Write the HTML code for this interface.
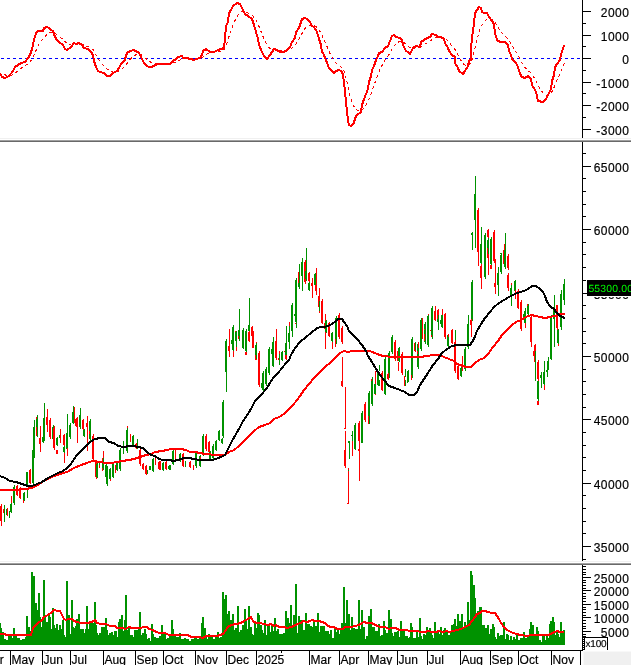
<!DOCTYPE html>
<html lang="en"><head><meta charset="utf-8"><title>Chart</title>
<style>html,body{margin:0;padding:0;background:#fff;overflow:hidden}svg text{white-space:pre;stroke:#000;stroke-width:.18px}</style></head>
<body>
<svg width="631" height="665" viewBox="0 0 631 665" shape-rendering="crispEdges" style="display:block;font-family:'Liberation Sans',sans-serif;font-size:12px">
<rect width="631" height="665" fill="#fff"/>
<g id="macd">
<line x1="1" y1="58.5" x2="582" y2="58.5" stroke="#0000ff" stroke-width="1" stroke-dasharray="3 3"/>
<polyline points="-1.4,72.9 0.0,72.9 1.4,73.5 2.9,74.1 4.3,74.6 5.7,75.1 7.2,75.4 8.6,75.6 10.0,75.5 11.5,75.1 12.9,74.6 14.3,73.7 15.7,72.5 17.2,71.4 18.6,70.2 20.0,69.1 21.5,68.0 22.9,67.1 24.3,66.2 25.8,65.4 27.2,64.3 28.6,63.0 30.0,61.8 31.5,60.1 32.9,57.8 34.3,54.4 35.8,50.9 37.2,47.7 38.6,44.9 40.1,42.5 41.5,40.6 42.9,38.9 44.3,37.1 45.8,35.5 47.2,34.2 48.6,33.1 50.1,32.5 51.5,32.2 52.9,32.0 54.4,32.7 55.8,33.7 57.2,34.9 58.6,36.0 60.1,37.1 61.5,38.2 62.9,39.5 64.4,41.1 65.8,42.5 67.2,43.7 68.7,44.5 70.1,44.9 71.5,45.1 72.9,45.0 74.4,44.7 75.8,44.6 77.2,44.5 78.7,44.3 80.1,44.2 81.5,44.4 83.0,44.8 84.4,45.4 85.8,45.9 87.2,46.4 88.7,46.9 90.1,47.5 91.5,48.3 93.0,49.6 94.4,51.8 95.8,54.4 97.3,56.9 98.7,59.2 100.1,61.4 101.5,63.2 103.0,64.8 104.4,66.3 105.8,67.7 107.3,69.0 108.7,70.2 110.1,71.1 111.6,71.7 113.0,72.0 114.4,72.1 115.8,72.1 117.3,71.8 118.7,71.3 120.1,70.4 121.6,69.4 123.0,68.2 124.4,66.9 125.9,65.0 127.3,63.0 128.7,61.1 130.1,59.4 131.6,57.9 133.0,56.6 134.4,55.6 135.9,54.8 137.3,54.3 138.7,54.1 140.2,54.3 141.6,55.0 143.0,56.0 144.4,57.3 145.9,58.6 147.3,59.8 148.7,60.9 150.2,61.9 151.6,62.7 153.0,63.2 154.5,63.5 155.9,63.7 157.3,63.7 158.7,63.7 160.2,63.7 161.6,63.7 163.0,63.7 164.5,63.7 165.9,63.7 167.3,63.7 168.8,63.7 170.2,63.7 171.6,63.4 173.0,63.0 174.5,62.5 175.9,61.8 177.3,61.2 178.8,60.5 180.2,59.9 181.6,59.2 183.1,58.9 184.5,58.7 185.9,58.5 187.3,58.4 188.8,58.4 190.2,58.5 191.6,58.7 193.1,58.9 194.5,59.1 195.9,59.1 197.4,59.1 198.8,58.9 200.2,58.7 201.6,58.0 203.1,56.9 204.5,55.8 205.9,54.7 207.4,53.9 208.8,53.4 210.2,53.1 211.7,52.8 213.1,52.6 214.5,52.4 215.9,52.2 217.4,51.9 218.8,51.6 220.2,51.3 221.7,51.0 223.1,50.5 224.5,49.1 226.0,45.7 227.4,41.9 228.8,37.2 230.2,32.9 231.7,28.9 233.1,25.0 234.5,21.6 236.0,18.7 237.4,16.0 238.8,14.0 240.3,12.6 241.7,11.7 243.1,11.4 244.5,11.7 246.0,12.1 247.4,12.7 248.8,13.3 250.3,14.0 251.7,14.9 253.1,16.3 254.6,18.1 256.0,20.2 257.4,22.8 258.8,26.0 260.3,29.6 261.7,33.2 263.1,36.8 264.6,40.1 266.0,43.2 267.4,45.6 268.9,47.4 270.3,48.6 271.7,49.2 273.1,49.4 274.6,49.3 276.0,49.4 277.4,49.6 278.9,49.9 280.3,50.3 281.7,50.7 283.2,50.9 284.6,51.1 286.0,51.1 287.4,50.9 288.9,50.4 290.3,49.5 291.7,48.3 293.2,47.0 294.6,45.6 296.0,43.7 297.5,41.5 298.9,39.2 300.3,36.8 301.7,33.9 303.2,31.4 304.6,29.1 306.0,27.3 307.5,26.0 308.9,25.3 310.3,25.0 311.8,25.1 313.2,25.4 314.6,25.8 316.0,26.7 317.5,28.0 318.9,29.8 320.3,32.0 321.8,34.9 323.2,38.0 324.6,41.3 326.1,44.5 327.5,47.7 328.9,51.0 330.3,54.0 331.8,56.8 333.2,59.4 334.6,61.6 336.1,63.2 337.5,64.5 338.9,65.5 340.4,66.4 341.8,67.3 343.2,69.2 344.6,72.6 346.1,78.1 347.5,84.7 348.9,91.4 350.4,97.1 351.8,101.7 353.2,105.3 354.7,107.6 356.1,109.2 357.5,110.1 358.9,110.7 360.4,111.1 361.8,110.5 363.2,109.0 364.7,107.1 366.1,104.8 367.5,102.2 369.0,99.0 370.4,95.4 371.8,91.3 373.2,87.4 374.7,83.5 376.1,79.5 377.5,75.6 379.0,71.9 380.4,68.7 381.8,65.9 383.3,63.4 384.7,60.8 386.1,58.6 387.5,56.6 389.0,54.5 390.4,52.2 391.8,49.5 393.3,47.0 394.7,45.1 396.1,43.8 397.6,42.6 399.0,41.8 400.4,41.2 401.8,41.2 403.3,41.9 404.7,43.0 406.1,44.4 407.6,45.7 409.0,46.9 410.4,48.0 411.9,48.4 413.3,48.3 414.7,48.1 416.1,47.8 417.6,47.6 419.0,47.4 420.4,46.7 421.9,45.9 423.3,45.0 424.7,44.2 426.2,43.3 427.6,42.4 429.0,41.6 430.4,40.7 431.9,39.7 433.3,38.7 434.7,38.0 436.2,37.5 437.6,37.3 439.0,37.2 440.5,37.2 441.9,37.3 443.3,37.5 444.7,38.2 446.2,39.3 447.6,40.7 449.0,42.4 450.5,44.1 451.9,45.8 453.3,47.5 454.8,49.2 456.2,51.8 457.6,54.5 459.0,57.1 460.5,59.7 461.9,62.0 463.3,63.8 464.8,65.0 466.2,65.6 467.6,65.8 469.1,64.9 470.5,63.9 471.9,60.0 473.3,54.9 474.8,49.1 476.2,42.7 477.6,37.0 479.1,32.0 480.5,28.0 481.9,25.3 483.4,23.2 484.8,21.4 486.2,20.0 487.6,19.1 489.1,18.9 490.5,18.9 491.9,19.2 493.4,19.8 494.8,21.5 496.2,24.0 497.7,26.6 499.1,29.1 500.5,31.2 501.9,33.0 503.4,34.5 504.8,35.8 506.2,37.1 507.7,38.4 509.1,40.7 510.5,43.0 512.0,45.5 513.4,47.8 514.8,50.0 516.2,52.1 517.7,54.4 519.1,57.1 520.5,59.9 522.0,62.7 523.4,65.1 524.8,67.3 526.3,69.0 527.7,70.2 529.1,71.4 530.5,72.7 532.0,74.5 533.4,76.6 534.8,78.8 536.3,81.3 537.7,84.4 539.1,87.2 540.6,89.6 542.0,91.6 543.4,93.2 544.8,94.4 546.3,95.1 547.7,95.3 549.1,94.8 550.6,93.9 552.0,91.6 553.4,89.0 554.9,85.3 556.3,81.9 557.7,78.7 559.1,75.8 560.6,72.7 562.0,69.2 563.4,65.8 564.9,62.3" fill="none" stroke="#ff0000" stroke-width="1" stroke-dasharray="3 3"/>
<polyline points="0,73 2,77 5,78 9,76 13,71 15,67 18,65 21,63 25,62 28,58 30,55 32,49 34,40 36,33 38,31 43,31 44,28 47,27 49,28 51,30 53,31 55,37 57,40 59,42 63,45 65,49 67,50 71,47 74,43 76,44 79,43 82,45 84,48 88,49 91,52 93,55 94,61 96,67 98,71 100,72 104,73 107,76 110,76 113,73 117,71 119,68 121,64 125,60 126,55 128,52 131,51 133,50 136,51 139,53 140,55 142,59 144,63 147,66 149,67 152,67 155,65 158,64 163,64 170,64 173,61 176,59 178,57 182,56 183,58 187,58 190,59 194,60 196,59 200,58 202,55 203,51 206,49 210,52 214,52 218,50 221,49 224,48 225,39 226,26 228,22 229,13 231,10 233,6 237,3 240,4 242,8 245,14 248,16 252,19 254,25 256,32 258,39 259,45 262,52 264,56 267,59 270,55 272,52 274,49 277,50 280,52 284,52 287,50 290,47 292,42 295,38 296,32 299,28 300,25 302,19 305,18 307,19 310,22 312,26 314,27 317,32 319,39 321,45 322,52 323,53 326,60 329,68 332,71 334,73 336,71 339,70 341,71 343,74 344,83 345,91 346,103 347,111 348,120 349,125 351,126 354,123 355,118 357,115 361,112 362,105 364,99 366,94 368,89 369,82 371,76 372,70 374,66 376,60 378,56 379,53 382,52 385,48 388,46 390,41 392,36 394,35 396,37 400,38 402,40 403,45 406,51 408,52 410,54 413,48 416,46 420,47 421,42 424,40 427,38 430,37 432,34 436,35 438,37 441,37 444,39 445,43 448,48 449,51 452,55 455,57 455,63 458,68 459,71 463,74 465,71 468,66 469,61 471,59 471,48 472,38 473,30 474,24 475,13 477,10 479,7 481,8 482,12 484,13 487,13 489,17 492,21 494,24 495,33 497,40 500,42 505,42 508,45 509,51 511,55 512,59 516,63 518,67 520,74 522,77 525,78 528,76 531,79 532,85 535,90 536,92 538,101 543,102 546,99 548,95 551,89 552,81 554,75 555,67 557,64 560,60 561,54 563,49 564,45" fill="none" stroke="#ff0000" stroke-width="2" stroke-linejoin="round"/>
</g>
<g id="candles">
<path fill="#ff0000" d="M0,506h1v-2h1v19h-1v-2h-1z"/>
<rect x="1" y="523" width="1" height="3" fill="#ff0000"/>
<rect x="3" y="509" width="1" height="4" fill="#ff0000"/>
<rect x="4" y="505" width="1" height="17" fill="#009200"/>
<rect x="6" y="509" width="1" height="6" fill="#009200"/>
<rect x="7" y="508" width="1" height="8" fill="#ff0000"/>
<rect x="9" y="511" width="1" height="7" fill="#009200"/>
<path fill="#009200" d="M10,504h1v-1h1v10h-1v-1h-1z"/>
<rect x="11" y="496" width="1" height="7" fill="#ff0000"/>
<path fill="#009200" d="M13,487h1v-2h1v20h-1v-2h-1z"/>
<path fill="#ff0000" d="M16,486h1v-1h1v11h-1v-1h-1z"/>
<path fill="#ff0000" d="M19,488h1v-1h1v12h-1v-1h-1z"/>
<rect x="23" y="498" width="1" height="5" fill="#ff0000"/>
<path fill="#009200" d="M23,493h1v-1h1v9h-1v-1h-1z"/>
<path fill="#009200" d="M26,473h1v-1h1v15h-1v-1h-1z"/>
<rect x="27" y="488" width="1" height="10" fill="#009200"/>
<path fill="#ff0000" d="M29,470h1v-1h1v15h-1v-1h-1z"/>
<path fill="#009200" d="M32,452h1v-2h1v35h-1v-2h-1z"/>
<rect x="26" y="472" width="1" height="7" fill="#009200"/>
<rect x="30" y="469" width="1" height="10" fill="#ff0000"/>
<path fill="#009200" d="M32,450h1v-2h1v31h-1v-2h-1z"/>
<path fill="#009200" d="M33,427h1v-2h1v33h-1v-2h-1z"/>
<rect x="34" y="420" width="1" height="6" fill="#009200"/>
<path fill="#009200" d="M36,417h1v-2h1v22h-1v-2h-1z"/>
<rect x="36" y="417" width="1" height="2" fill="#ff0000"/>
<rect x="36" y="427" width="1" height="9" fill="#ff0000"/>
<rect x="40" y="426" width="1" height="26" fill="#ff0000"/>
<path fill="#ff0000" d="M39,438h1v-1h1v8h-1v-1h-1z"/>
<path fill="#009200" d="M42,437h1v-1h1v7h-1v-1h-1z"/>
<path fill="#009200" d="M43,418h1v-2h1v25h-1v-2h-1z"/>
<rect x="44" y="403" width="1" height="14" fill="#009200"/>
<path fill="#ff0000" d="M46,417h1v-1h1v10h-1v-1h-1z"/>
<rect x="47" y="409" width="1" height="23" fill="#ff0000"/>
<path fill="#ff0000" d="M49,420h1v-2h1v21h-1v-2h-1z"/>
<path fill="#009200" d="M52,427h1v-2h1v16h-1v-2h-1z"/>
<path fill="#ff0000" d="M53,428h1v-2h1v24h-1v-2h-1z"/>
<path fill="#009200" d="M56,438h1v-1h1v9h-1v-1h-1z"/>
<rect x="56" y="450" width="2" height="4" fill="#ff0000"/>
<path fill="#009200" d="M59,435h1v-1h1v5h-1v-1h-1z"/>
<rect x="60" y="429" width="1" height="14" fill="#ff0000"/>
<path fill="#ff0000" d="M63,435h1v-1h1v12h-1v-1h-1z"/>
<path fill="#009200" d="M63,447h1v-1h1v7h-1v-1h-1z"/>
<rect x="64" y="453" width="1" height="10" fill="#ff0000"/>
<path fill="#009200" d="M66,433h1v-2h1v20h-1v-2h-1z"/>
<rect x="67" y="414" width="1" height="18" fill="#009200"/>
<rect x="67" y="448" width="1" height="8" fill="#ff0000"/>
<path fill="#009200" d="M69,425h1v-2h1v16h-1v-2h-1z"/>
<path fill="#009200" d="M72,412h1v-1h1v13h-1v-1h-1z"/>
<rect x="74" y="407" width="1" height="16" fill="#ff0000"/>
<rect x="73" y="406" width="1" height="5" fill="#009200"/>
<rect x="77" y="417" width="1" height="26" fill="#ff0000"/>
<path fill="#ff0000" d="M75,419h1v-1h1v9h-1v-1h-1z"/>
<path fill="#009200" d="M79,415h1v-2h1v16h-1v-2h-1z"/>
<rect x="80" y="408" width="1" height="5" fill="#009200"/>
<path fill="#ff0000" d="M82,420h1v-1h1v11h-1v-1h-1z"/>
<path fill="#009200" d="M83,430h1v-1h1v8h-1v-1h-1z"/>
<rect x="87" y="416" width="1" height="35" fill="#ff0000"/>
<path fill="#ff0000" d="M86,423h1v-1h1v6h-1v-1h-1z"/>
<path fill="#009200" d="M89,421h1v-2h1v22h-1v-2h-1z"/>
<rect x="89" y="431" width="1" height="3" fill="#ff0000"/>
<path fill="#ff0000" d="M92,436h1v-2h1v27h-1v-2h-1z"/>
<path fill="#009200" d="M96,464h1v-1h1v14h-1v-1h-1z"/>
<rect x="96" y="464" width="1" height="8" fill="#ff0000"/>
<rect x="99" y="463" width="1" height="4" fill="#ff0000"/>
<rect x="90" y="419" width="1" height="24" fill="#009200"/>
<path fill="#ff0000" d="M92,436h1v-2h1v27h-1v-2h-1z"/>
<path fill="#ff0000" d="M95,462h1v-2h1v19h-1v-2h-1z"/>
<path fill="#009200" d="M96,464h1v-1h1v15h-1v-1h-1z"/>
<rect x="99" y="463" width="1" height="5" fill="#009200"/>
<rect x="99" y="465" width="1" height="3" fill="#ff0000"/>
<path fill="#009200" d="M102,458h1v-1h1v13h-1v-1h-1z"/>
<rect x="103" y="451" width="1" height="7" fill="#ff0000"/>
<rect x="102" y="458" width="1" height="3" fill="#ff0000"/>
<rect x="102" y="468" width="1" height="3" fill="#ff0000"/>
<path fill="#009200" d="M105,465h1v-2h1v16h-1v-2h-1z"/>
<rect x="106" y="476" width="1" height="5" fill="#ff0000"/>
<path fill="#009200" d="M106,468h1v-2h1v20h-1v-2h-1z"/>
<path fill="#009200" d="M109,469h1v-1h1v12h-1v-1h-1z"/>
<rect x="110" y="479" width="1" height="2" fill="#ff0000"/>
<path fill="#009200" d="M112,464h1v-1h1v15h-1v-1h-1z"/>
<rect x="115" y="465" width="1" height="8" fill="#ff0000"/>
<path fill="#009200" d="M116,462h1v-1h1v10h-1v-1h-1z"/>
<path fill="#009200" d="M119,450h1v-2h1v23h-1v-2h-1z"/>
<rect x="123" y="441" width="1" height="13" fill="#009200"/>
<path fill="#009200" d="M126,430h1v-2h1v25h-1v-2h-1z"/>
<rect x="127" y="426" width="1" height="2" fill="#ff0000"/>
<rect x="130" y="434" width="1" height="8" fill="#ff0000"/>
<path fill="#009200" d="M132,436h1v-1h1v11h-1v-1h-1z"/>
<path fill="#ff0000" d="M135,444h1v-1h1v6h-1v-1h-1z"/>
<rect x="137" y="439" width="1" height="10" fill="#009200"/>
<path fill="#ff0000" d="M139,450h1v-2h1v18h-1v-2h-1z"/>
<path fill="#ff0000" d="M142,464h1v-1h1v7h-1v-1h-1z"/>
<path fill="#ff0000" d="M145,466h1v-1h1v10h-1v-1h-1z"/>
<rect x="147" y="470" width="1" height="4" fill="#009200"/>
<rect x="149" y="466" width="2" height="4" fill="#009200"/>
<path fill="#009200" d="M152,459h1v-1h1v14h-1v-1h-1z"/>
<rect x="155" y="458" width="1" height="7" fill="#ff0000"/>
<path fill="#ff0000" d="M158,462h1v-1h1v9h-1v-1h-1z"/>
<path fill="#009200" d="M162,464h1v-1h1v8h-1v-1h-1z"/>
<path fill="#ff0000" d="M165,462h1v-1h1v9h-1v-1h-1z"/>
<path fill="#009200" d="M168,466h1v-1h1v5h-1v-1h-1z"/>
<rect x="160" y="461" width="1" height="9" fill="#ff0000"/>
<path fill="#009200" d="M162,463h1v-1h1v8h-1v-1h-1z"/>
<path fill="#ff0000" d="M165,462h1v-1h1v9h-1v-1h-1z"/>
<path fill="#009200" d="M169,466h1v-1h1v5h-1v-1h-1z"/>
<path fill="#009200" d="M172,451h1v-1h1v15h-1v-1h-1z"/>
<rect x="175" y="450" width="1" height="9" fill="#ff0000"/>
<path fill="#009200" d="M179,454h1v-1h1v9h-1v-1h-1z"/>
<path fill="#ff0000" d="M182,454h1v-1h1v14h-1v-1h-1z"/>
<rect x="185" y="461" width="1" height="6" fill="#009200"/>
<path fill="#ff0000" d="M189,462h1v-1h1v7h-1v-1h-1z"/>
<rect x="193" y="465" width="1" height="5" fill="#ff0000"/>
<path fill="#009200" d="M195,453h1v-2h1v17h-1v-2h-1z"/>
<path fill="#009200" d="M199,456h1v-1h1v12h-1v-1h-1z"/>
<rect x="200" y="457" width="1" height="3" fill="#ff0000"/>
<path fill="#009200" d="M202,436h1v-2h1v22h-1v-2h-1z"/>
<path fill="#ff0000" d="M205,436h1v-2h1v17h-1v-2h-1z"/>
<path fill="#ff0000" d="M208,442h1v-1h1v12h-1v-1h-1z"/>
<path fill="#009200" d="M209,452h1v-1h1v9h-1v-1h-1z"/>
<path fill="#009200" d="M212,446h1v-2h1v16h-1v-2h-1z"/>
<path fill="#009200" d="M215,441h1v-1h1v11h-1v-1h-1z"/>
<path fill="#009200" d="M218,431h1v-1h1v11h-1v-1h-1z"/>
<path fill="#009200" d="M221,439h1v-1h1v6h-1v-1h-1z"/>
<path fill="#009200" d="M222,402h1v-2h1v38h-1v-2h-1z"/>
<path fill="#009200" d="M225,341h1v-2h1v35h-1v-2h-1z"/>
<rect x="226" y="374" width="1" height="18" fill="#009200"/>
<rect x="229" y="329" width="1" height="28" fill="#ff0000"/>
<path fill="#ff0000" d="M228,346h1v-1h1v7h-1v-1h-1z"/>
<path fill="#009200" d="M232,327h1v-2h1v27h-1v-2h-1z"/>
<path fill="#009200" d="M231,340h1v-1h1v6h-1v-1h-1z"/>
<rect x="233" y="351" width="1" height="6" fill="#ff0000"/>
<path fill="#009200" d="M235,332h1v-1h1v11h-1v-1h-1z"/>
<rect x="236" y="341" width="1" height="6" fill="#009200"/>
<rect x="236" y="347" width="1" height="4" fill="#ff0000"/>
<rect x="235" y="331" width="1" height="1" fill="#ff0000"/>
<rect x="239" y="309" width="1" height="32" fill="#009200"/>
<path fill="#009200" d="M238,330h1v-1h1v11h-1v-1h-1z"/>
<rect x="238" y="336" width="1" height="3" fill="#ff0000"/>
<rect x="242" y="331" width="1" height="8" fill="#ff0000"/>
<path fill="#009200" d="M242,330h1v-2h1v21h-1v-2h-1z"/>
<path fill="#009200" d="M245,331h1v-2h1v23h-1v-2h-1z"/>
<rect x="245" y="352" width="2" height="3" fill="#ff0000"/>
<rect x="249" y="298" width="1" height="33" fill="#009200"/>
<path fill="#009200" d="M248,325h1v-1h1v8h-1v-1h-1z"/>
<path fill="#ff0000" d="M248,332h1v-1h1v11h-1v-1h-1z"/>
<path fill="#ff0000" d="M251,327h1v-1h1v11h-1v-1h-1z"/>
<rect x="252" y="337" width="1" height="11" fill="#ff0000"/>
<rect x="253" y="331" width="1" height="16" fill="#ff0000"/>
<path fill="#009200" d="M255,345h1v-1h1v12h-1v-1h-1z"/>
<rect x="256" y="342" width="1" height="3" fill="#ff0000"/>
<path fill="#ff0000" d="M255,356h1v-1h1v5h-1v-1h-1z"/>
<path fill="#ff0000" d="M258,353h1v-2h1v21h-1v-2h-1z"/>
<rect x="263" y="371" width="1" height="3" fill="#009200"/>
<rect x="266" y="367" width="1" height="7" fill="#009200"/>
<path fill="#009200" d="M268,349h1v-2h1v27h-1v-2h-1z"/>
<path fill="#009200" d="M272,343h1v-2h1v16h-1v-2h-1z"/>
<rect x="273" y="337" width="1" height="4" fill="#009200"/>
<rect x="272" y="357" width="1" height="9" fill="#009200"/>
<path fill="#ff0000" d="M275,341h1v-2h1v21h-1v-2h-1z"/>
<rect x="276" y="329" width="1" height="11" fill="#ff0000"/>
<rect x="279" y="351" width="1" height="14" fill="#009200"/>
<rect x="279" y="351" width="1" height="4" fill="#ff0000"/>
<rect x="278" y="358" width="1" height="2" fill="#ff0000"/>
<path fill="#009200" d="M281,352h1v-1h1v9h-1v-1h-1z"/>
<path fill="#009200" d="M285,343h1v-1h1v14h-1v-1h-1z"/>
<rect x="286" y="326" width="1" height="16" fill="#009200"/>
<path fill="#ff0000" d="M285,356h1v-1h1v5h-1v-1h-1z"/>
<rect x="284" y="351" width="1" height="1" fill="#ff0000"/>
<path fill="#009200" d="M288,333h1v-1h1v11h-1v-1h-1z"/>
<rect x="289" y="322" width="1" height="10" fill="#ff0000"/>
<path fill="#009200" d="M242,341h1v-1h1v9h-1v-1h-1z"/>
<path fill="#009200" d="M245,341h1v-1h1v12h-1v-1h-1z"/>
<rect x="245" y="352" width="2" height="3" fill="#ff0000"/>
<path fill="#ff0000" d="M252,344h1v-1h1v5h-1v-1h-1z"/>
<path fill="#009200" d="M255,345h1v-2h1v16h-1v-2h-1z"/>
<rect x="255" y="355" width="1" height="5" fill="#ff0000"/>
<path fill="#ff0000" d="M258,353h1v-2h1v36h-1v-2h-1z"/>
<path fill="#009200" d="M262,373h1v-2h1v21h-1v-2h-1z"/>
<rect x="261" y="383" width="1" height="5" fill="#009200"/>
<path fill="#009200" d="M265,369h1v-2h1v19h-1v-2h-1z"/>
<path fill="#009200" d="M268,349h1v-2h1v28h-1v-2h-1z"/>
<rect x="268" y="354" width="1" height="5" fill="#009200"/>
<path fill="#009200" d="M272,342h1v-2h1v27h-1v-2h-1z"/>
<rect x="271" y="349" width="1" height="5" fill="#009200"/>
<path fill="#ff0000" d="M275,342h1v-2h1v20h-1v-2h-1z"/>
<rect x="279" y="351" width="1" height="14" fill="#009200"/>
<rect x="278" y="358" width="1" height="2" fill="#ff0000"/>
<rect x="279" y="351" width="1" height="3" fill="#ff0000"/>
<path fill="#009200" d="M281,352h1v-1h1v10h-1v-1h-1z"/>
<path fill="#009200" d="M285,344h1v-2h1v17h-1v-2h-1z"/>
<path fill="#ff0000" d="M285,356h1v-1h1v5h-1v-1h-1z"/>
<rect x="284" y="351" width="1" height="1" fill="#ff0000"/>
<rect x="289" y="340" width="1" height="9" fill="#009200"/>
<rect x="289" y="322" width="1" height="2" fill="#ff0000"/>
<path fill="#009200" d="M291,305h1v-2h1v21h-1v-2h-1z"/>
<path fill="#009200" d="M295,280h1v-2h1v46h-1v-2h-1z"/>
<rect x="294" y="314" width="1" height="2" fill="#009200"/>
<path fill="#009200" d="M298,274h1v-2h1v17h-1v-2h-1z"/>
<rect x="299" y="264" width="1" height="9" fill="#009200"/>
<rect x="298" y="272" width="1" height="11" fill="#ff0000"/>
<path fill="#009200" d="M301,262h1v-2h1v18h-1v-2h-1z"/>
<rect x="302" y="258" width="1" height="33" fill="#009200"/>
<path fill="#ff0000" d="M304,262h1v-2h1v24h-1v-2h-1z"/>
<rect x="304" y="269" width="1" height="9" fill="#ff0000"/>
<rect x="306" y="248" width="1" height="33" fill="#009200"/>
<rect x="305" y="271" width="1" height="8" fill="#009200"/>
<path fill="#ff0000" d="M308,273h1v-1h1v10h-1v-1h-1z"/>
<path fill="#009200" d="M308,283h1v-1h1v9h-1v-1h-1z"/>
<rect x="312" y="278" width="1" height="20" fill="#ff0000"/>
<rect x="311" y="283" width="1" height="3" fill="#ff0000"/>
<path fill="#009200" d="M314,274h1v-1h1v13h-1v-1h-1z"/>
<rect x="316" y="268" width="1" height="27" fill="#ff0000"/>
<rect x="315" y="285" width="1" height="6" fill="#ff0000"/>
<rect x="319" y="288" width="1" height="19" fill="#ff0000"/>
<path fill="#ff0000" d="M318,296h1v-1h1v13h-1v-1h-1z"/>
<rect x="319" y="301" width="1" height="10" fill="#009200"/>
<rect x="319" y="311" width="1" height="2" fill="#ff0000"/>
<path fill="#ff0000" d="M321,301h1v-2h1v25h-1v-2h-1z"/>
<rect x="325" y="314" width="1" height="10" fill="#ff0000"/>
<rect x="326" y="321" width="1" height="3" fill="#009200"/>
<rect x="329" y="322" width="1" height="2" fill="#ff0000"/>
<rect x="336" y="316" width="1" height="5" fill="#009200"/>
<rect x="339" y="313" width="1" height="11" fill="#ff0000"/>
<path fill="#009200" d="M281,352h1v-1h1v10h-1v-1h-1z"/>
<path fill="#009200" d="M285,343h1v-1h1v13h-1v-1h-1z"/>
<rect x="286" y="326" width="1" height="17" fill="#009200"/>
<rect x="285" y="355" width="2" height="4" fill="#ff0000"/>
<rect x="284" y="351" width="1" height="1" fill="#ff0000"/>
<rect x="289" y="322" width="1" height="4" fill="#ff0000"/>
<rect x="289" y="326" width="1" height="23" fill="#009200"/>
<rect x="288" y="333" width="1" height="9" fill="#009200"/>
<path fill="#009200" d="M291,312h1v-2h1v23h-1v-2h-1z"/>
<rect x="292" y="333" width="1" height="4" fill="#009200"/>
<path fill="#009200" d="M295,311h1v-1h1v13h-1v-1h-1z"/>
<rect x="296" y="323" width="1" height="5" fill="#009200"/>
<rect x="295" y="323" width="1" height="1" fill="#ff0000"/>
<path fill="#ff0000" d="M321,311h1v-1h1v14h-1v-1h-1z"/>
<rect x="325" y="314" width="1" height="35" fill="#ff0000"/>
<path fill="#ff0000" d="M324,323h1v-1h1v8h-1v-1h-1z"/>
<path fill="#009200" d="M325,321h1v-1h1v13h-1v-1h-1z"/>
<path fill="#ff0000" d="M328,323h1v-1h1v15h-1v-1h-1z"/>
<path fill="#009200" d="M331,333h1v-1h1v10h-1v-1h-1z"/>
<rect x="332" y="342" width="1" height="7" fill="#ff0000"/>
<path fill="#009200" d="M335,318h1v-2h1v28h-1v-2h-1z"/>
<rect x="335" y="339" width="1" height="8" fill="#ff0000"/>
<path fill="#ff0000" d="M338,315h1v-2h1v26h-1v-2h-1z"/>
<path fill="#ff0000" d="M341,328h1v-2h1v18h-1v-2h-1z"/>
<rect x="342" y="357" width="1" height="30" fill="#ff0000"/>
<path fill="#ff0000" d="M341,383h1v-1h1v5h-1v-1h-1z"/>
<rect x="345" y="387" width="1" height="7" fill="#ff0000"/>
<path fill="#ff0000" d="M341,381h1v-1h1v7h-1v-1h-1z"/>
<rect x="345" y="387" width="1" height="42" fill="#ff0000"/>
<rect x="344" y="428" width="1" height="1" fill="#ff0000"/>
<rect x="345" y="431" width="1" height="17" fill="#ff0000"/>
<path fill="#ff0000" d="M344,450h1v-2h1v16h-1v-2h-1z"/>
<rect x="349" y="441" width="1" height="18" fill="#009200"/>
<rect x="348" y="441" width="1" height="2" fill="#009200"/>
<rect x="352" y="431" width="1" height="10" fill="#009200"/>
<rect x="352" y="441" width="1" height="15" fill="#ff0000"/>
<rect x="351" y="435" width="1" height="1" fill="#009200"/>
<path fill="#009200" d="M354,425h1v-2h1v27h-1v-2h-1z"/>
<path fill="#ff0000" d="M358,423h1v-2h1v22h-1v-2h-1z"/>
<rect x="359" y="426" width="1" height="38" fill="#ff0000"/>
<path fill="#009200" d="M361,413h1v-2h1v32h-1v-2h-1z"/>
<path fill="#ff0000" d="M364,404h1v-2h1v20h-1v-2h-1z"/>
<rect x="364" y="409" width="1" height="9" fill="#ff0000"/>
<path fill="#009200" d="M368,393h1v-2h1v33h-1v-2h-1z"/>
<rect x="368" y="416" width="1" height="8" fill="#ff0000"/>
<path fill="#009200" d="M371,382h1v-2h1v26h-1v-2h-1z"/>
<path fill="#009200" d="M374,384h1v-1h1v12h-1v-1h-1z"/>
<rect x="375" y="380" width="1" height="15" fill="#ff0000"/>
<path fill="#009200" d="M378,381h1v-1h1v6h-1v-1h-1z"/>
<path fill="#ff0000" d="M381,381h1v-1h1v11h-1v-1h-1z"/>
<path fill="#009200" d="M384,383h1v-1h1v13h-1v-1h-1z"/>
<rect x="404" y="380" width="1" height="6" fill="#ff0000"/>
<rect x="405" y="380" width="1" height="6" fill="#009200"/>
<rect x="407" y="380" width="1" height="3" fill="#009200"/>
<path fill="#ff0000" d="M344,450h1v-2h1v20h-1v-2h-1z"/>
<rect x="345" y="440" width="1" height="8" fill="#ff0000"/>
<rect x="348" y="468" width="1" height="36" fill="#ff0000"/>
<rect x="348" y="470" width="1" height="1" fill="#009200"/>
<rect x="347" y="503" width="1" height="1" fill="#ff0000"/>
<rect x="349" y="441" width="1" height="18" fill="#009200"/>
<rect x="348" y="441" width="2" height="2" fill="#009200"/>
<rect x="352" y="441" width="1" height="15" fill="#ff0000"/>
<path fill="#009200" d="M354,441h1v-1h1v10h-1v-1h-1z"/>
<rect x="359" y="440" width="1" height="41" fill="#ff0000"/>
<rect x="358" y="449" width="1" height="2" fill="#ff0000"/>
<rect x="361" y="440" width="2" height="3" fill="#009200"/>
<rect x="369" y="391" width="1" height="3" fill="#009200"/>
<path fill="#009200" d="M371,379h1v-2h1v17h-1v-2h-1z"/>
<rect x="371" y="379" width="1" height="2" fill="#ff0000"/>
<path fill="#009200" d="M374,384h1v-1h1v11h-1v-1h-1z"/>
<rect x="375" y="371" width="1" height="13" fill="#ff0000"/>
<path fill="#009200" d="M377,372h1v-1h1v15h-1v-1h-1z"/>
<rect x="379" y="365" width="1" height="6" fill="#009200"/>
<path fill="#ff0000" d="M381,373h1v-2h1v20h-1v-2h-1z"/>
<path fill="#009200" d="M384,359h1v-2h1v37h-1v-2h-1z"/>
<rect x="384" y="365" width="1" height="1" fill="#009200"/>
<path fill="#009200" d="M388,353h1v-2h1v27h-1v-2h-1z"/>
<path fill="#ff0000" d="M387,374h1v-1h1v7h-1v-1h-1z"/>
<path fill="#009200" d="M391,337h1v-2h1v19h-1v-2h-1z"/>
<path fill="#ff0000" d="M394,342h1v-2h1v21h-1v-2h-1z"/>
<path fill="#009200" d="M398,348h1v-1h1v15h-1v-1h-1z"/>
<rect x="397" y="351" width="1" height="10" fill="#ff0000"/>
<rect x="398" y="362" width="1" height="9" fill="#ff0000"/>
<path fill="#ff0000" d="M401,354h1v-2h1v23h-1v-2h-1z"/>
<rect x="405" y="369" width="1" height="8" fill="#009200"/>
<rect x="404" y="376" width="1" height="10" fill="#ff0000"/>
<path fill="#009200" d="M407,371h1v-1h1v12h-1v-1h-1z"/>
<path fill="#009200" d="M411,339h1v-2h1v41h-1v-2h-1z"/>
<rect x="411" y="345" width="1" height="3" fill="#009200"/>
<rect x="411" y="375" width="1" height="5" fill="#ff0000"/>
<path fill="#ff0000" d="M414,343h1v-1h1v10h-1v-1h-1z"/>
<rect x="415" y="342" width="1" height="8" fill="#009200"/>
<path fill="#009200" d="M417,344h1v-2h1v27h-1v-2h-1z"/>
<rect x="417" y="351" width="1" height="3" fill="#ff0000"/>
<rect x="418" y="342" width="1" height="6" fill="#ff0000"/>
<path fill="#009200" d="M420,320h1v-2h1v33h-1v-2h-1z"/>
<rect x="422" y="318" width="1" height="21" fill="#ff0000"/>
<path fill="#009200" d="M424,324h1v-2h1v22h-1v-2h-1z"/>
<rect x="424" y="329" width="1" height="12" fill="#ff0000"/>
<path fill="#009200" d="M427,316h1v-2h1v33h-1v-2h-1z"/>
<path fill="#009200" d="M431,312h1v-2h1v29h-1v-2h-1z"/>
<rect x="431" y="330" width="1" height="7" fill="#ff0000"/>
<path fill="#ff0000" d="M434,311h1v-1h1v11h-1v-1h-1z"/>
<rect x="438" y="310" width="1" height="20" fill="#009200"/>
<rect x="437" y="310" width="1" height="12" fill="#ff0000"/>
<path fill="#009200" d="M441,315h1v-1h1v14h-1v-1h-1z"/>
<rect x="442" y="310" width="1" height="14" fill="#ff0000"/>
<rect x="444" y="314" width="1" height="23" fill="#ff0000"/>
<path fill="#009200" d="M431,312h1v-2h1v29h-1v-2h-1z"/>
<rect x="431" y="335" width="1" height="2" fill="#ff0000"/>
<rect x="430" y="330" width="1" height="1" fill="#ff0000"/>
<path fill="#ff0000" d="M434,314h1v-1h1v7h-1v-1h-1z"/>
<rect x="438" y="315" width="1" height="15" fill="#009200"/>
<rect x="438" y="310" width="1" height="5" fill="#ff0000"/>
<rect x="437" y="319" width="1" height="3" fill="#ff0000"/>
<path fill="#009200" d="M441,315h1v-1h1v13h-1v-1h-1z"/>
<rect x="442" y="310" width="1" height="4" fill="#ff0000"/>
<path fill="#ff0000" d="M444,315h1v-2h1v26h-1v-2h-1z"/>
<path fill="#009200" d="M447,335h1v-1h1v13h-1v-1h-1z"/>
<rect x="448" y="334" width="1" height="3" fill="#ff0000"/>
<path fill="#ff0000" d="M451,330h1v-1h1v15h-1v-1h-1z"/>
<rect x="452" y="332" width="1" height="12" fill="#ff0000"/>
<rect x="455" y="330" width="1" height="14" fill="#009200"/>
<path fill="#ff0000" d="M454,342h1v-2h1v33h-1v-2h-1z"/>
<path fill="#ff0000" d="M457,366h1v-1h1v15h-1v-1h-1z"/>
<path fill="#009200" d="M460,368h1v-1h1v10h-1v-1h-1z"/>
<rect x="462" y="356" width="1" height="15" fill="#ff0000"/>
<path fill="#009200" d="M464,349h1v-2h1v24h-1v-2h-1z"/>
<path fill="#009200" d="M467,326h1v-2h1v25h-1v-2h-1z"/>
<rect x="468" y="315" width="1" height="10" fill="#009200"/>
<rect x="471" y="319" width="1" height="18" fill="#ff0000"/>
<path fill="#009200" d="M471,311h1v-1h1v11h-1v-1h-1z"/>
<path fill="#009200" d="M420,320h1v-2h1v16h-1v-2h-1z"/>
<rect x="422" y="318" width="1" height="16" fill="#ff0000"/>
<rect x="425" y="322" width="1" height="12" fill="#009200"/>
<rect x="424" y="330" width="1" height="4" fill="#009200"/>
<rect x="428" y="314" width="1" height="20" fill="#009200"/>
<rect x="427" y="324" width="1" height="10" fill="#009200"/>
<rect x="428" y="314" width="1" height="1" fill="#ff0000"/>
<path fill="#009200" d="M431,308h1v-2h1v28h-1v-2h-1z"/>
<rect x="430" y="330" width="1" height="1" fill="#ff0000"/>
<rect x="435" y="306" width="1" height="15" fill="#ff0000"/>
<rect x="434" y="313" width="1" height="7" fill="#ff0000"/>
<rect x="438" y="309" width="1" height="6" fill="#ff0000"/>
<rect x="438" y="315" width="1" height="15" fill="#009200"/>
<rect x="437" y="319" width="1" height="3" fill="#009200"/>
<path fill="#009200" d="M441,315h1v-1h1v13h-1v-1h-1z"/>
<rect x="442" y="309" width="1" height="6" fill="#ff0000"/>
<rect x="440" y="320" width="1" height="4" fill="#009200"/>
<path fill="#ff0000" d="M444,315h1v-2h1v21h-1v-2h-1z"/>
<path fill="#ff0000" d="M451,330h1v-1h1v5h-1v-1h-1z"/>
<rect x="455" y="330" width="1" height="4" fill="#009200"/>
<rect x="468" y="315" width="1" height="19" fill="#009200"/>
<rect x="467" y="324" width="1" height="10" fill="#009200"/>
<path fill="#009200" d="M471,282h1v-2h1v40h-1v-2h-1z"/>
<path fill="#ff0000" d="M470,320h1v-1h1v7h-1v-1h-1z"/>
<rect x="471" y="326" width="1" height="8" fill="#ff0000"/>
<rect x="478" y="250" width="1" height="16" fill="#ff0000"/>
<rect x="477" y="250" width="1" height="2" fill="#ff0000"/>
<path fill="#009200" d="M480,251h1v-1h1v14h-1v-1h-1z"/>
<path fill="#ff0000" d="M480,266h1v-2h1v16h-1v-2h-1z"/>
<rect x="481" y="280" width="1" height="9" fill="#ff0000"/>
<path fill="#009200" d="M484,252h1v-2h1v29h-1v-2h-1z"/>
<rect x="488" y="250" width="1" height="25" fill="#ff0000"/>
<rect x="487" y="250" width="1" height="8" fill="#ff0000"/>
<path fill="#009200" d="M490,251h1v-1h1v15h-1v-1h-1z"/>
<rect x="490" y="265" width="2" height="3" fill="#ff0000"/>
<path fill="#ff0000" d="M493,251h1v-1h1v10h-1v-1h-1z"/>
<rect x="495" y="259" width="1" height="35" fill="#ff0000"/>
<rect x="494" y="283" width="1" height="4" fill="#ff0000"/>
<rect x="498" y="267" width="1" height="29" fill="#009200"/>
<rect x="497" y="273" width="1" height="12" fill="#009200"/>
<rect x="472" y="232" width="1" height="18" fill="#009200"/>
<rect x="471" y="233" width="1" height="2" fill="#009200"/>
<path fill="#009200" d="M474,194h1v-2h1v30h-1v-2h-1z"/>
<rect x="475" y="176" width="1" height="72" fill="#009200"/>
<path fill="#ff0000" d="M477,210h1v-2h1v44h-1v-2h-1z"/>
<rect x="478" y="252" width="1" height="2" fill="#ff0000"/>
<rect x="481" y="227" width="1" height="27" fill="#009200"/>
<rect x="480" y="244" width="1" height="10" fill="#009200"/>
<path fill="#009200" d="M484,235h1v-2h1v21h-1v-2h-1z"/>
<rect x="484" y="238" width="1" height="16" fill="#009200"/>
<path fill="#ff0000" d="M487,230h1v-1h1v9h-1v-1h-1z"/>
<path fill="#009200" d="M487,240h1v-2h1v16h-1v-2h-1z"/>
<rect x="487" y="248" width="1" height="6" fill="#ff0000"/>
<path fill="#009200" d="M490,240h1v-2h1v16h-1v-2h-1z"/>
<path fill="#ff0000" d="M493,232h1v-2h1v24h-1v-2h-1z"/>
<rect x="500" y="253" width="2" height="1" fill="#009200"/>
<rect x="504" y="244" width="1" height="10" fill="#ff0000"/>
<rect x="505" y="233" width="1" height="21" fill="#009200"/>
<rect x="503" y="250" width="1" height="4" fill="#ff0000"/>
<path fill="#009200" d="M490,239h1v-2h1v28h-1v-2h-1z"/>
<rect x="490" y="265" width="2" height="4" fill="#ff0000"/>
<path fill="#ff0000" d="M493,232h1v-2h1v33h-1v-2h-1z"/>
<rect x="495" y="259" width="1" height="35" fill="#ff0000"/>
<rect x="494" y="283" width="1" height="4" fill="#ff0000"/>
<rect x="498" y="267" width="1" height="29" fill="#009200"/>
<rect x="497" y="273" width="1" height="12" fill="#009200"/>
<path fill="#009200" d="M500,255h1v-2h1v21h-1v-2h-1z"/>
<path fill="#009200" d="M504,246h1v-2h1v25h-1v-2h-1z"/>
<rect x="505" y="233" width="1" height="12" fill="#009200"/>
<rect x="504" y="244" width="1" height="6" fill="#ff0000"/>
<rect x="503" y="250" width="1" height="14" fill="#ff0000"/>
<path fill="#ff0000" d="M507,256h1v-2h1v16h-1v-2h-1z"/>
<rect x="508" y="273" width="1" height="18" fill="#ff0000"/>
<rect x="507" y="275" width="1" height="13" fill="#ff0000"/>
<rect x="511" y="283" width="1" height="23" fill="#009200"/>
<rect x="511" y="283" width="1" height="2" fill="#ff0000"/>
<rect x="510" y="288" width="1" height="7" fill="#009200"/>
<path fill="#009200" d="M514,281h1v-1h1v12h-1v-1h-1z"/>
<rect x="515" y="290" width="1" height="9" fill="#ff0000"/>
<path fill="#ff0000" d="M517,291h1v-2h1v20h-1v-2h-1z"/>
<rect x="521" y="300" width="1" height="9" fill="#ff0000"/>
<path fill="#009200" d="M527,305h1v-1h1v5h-1v-1h-1z"/>
<rect x="527" y="304" width="1" height="2" fill="#ff0000"/>
<rect x="525" y="308" width="1" height="1" fill="#009200"/>
<rect x="554" y="295" width="1" height="14" fill="#009200"/>
<rect x="556" y="305" width="2" height="4" fill="#ff0000"/>
<rect x="511" y="300" width="1" height="6" fill="#009200"/>
<path fill="#ff0000" d="M517,301h1v-1h1v9h-1v-1h-1z"/>
<path fill="#ff0000" d="M520,302h1v-2h1v31h-1v-2h-1z"/>
<path fill="#009200" d="M524,311h1v-2h1v16h-1v-2h-1z"/>
<rect x="525" y="323" width="1" height="5" fill="#ff0000"/>
<rect x="523" y="314" width="1" height="6" fill="#009200"/>
<path fill="#009200" d="M527,305h1v-1h1v11h-1v-1h-1z"/>
<rect x="527" y="304" width="1" height="2" fill="#ff0000"/>
<path fill="#ff0000" d="M530,317h1v-2h1v29h-1v-2h-1z"/>
<rect x="531" y="344" width="1" height="3" fill="#ff0000"/>
<path fill="#ff0000" d="M534,345h1v-1h1v7h-1v-1h-1z"/>
<path fill="#009200" d="M534,352h1v-1h1v5h-1v-1h-1z"/>
<rect x="533" y="351" width="1" height="5" fill="#ff0000"/>
<rect x="534" y="356" width="1" height="6" fill="#ff0000"/>
<rect x="535" y="361" width="1" height="20" fill="#009200"/>
<path fill="#ff0000" d="M537,362h1v-2h1v21h-1v-2h-1z"/>
<rect x="537" y="381" width="2" height="3" fill="#009200"/>
<rect x="541" y="372" width="1" height="12" fill="#009200"/>
<rect x="540" y="375" width="1" height="3" fill="#009200"/>
<rect x="544" y="361" width="1" height="23" fill="#009200"/>
<rect x="543" y="372" width="1" height="12" fill="#009200"/>
<rect x="547" y="369" width="1" height="8" fill="#009200"/>
<rect x="548" y="358" width="1" height="12" fill="#009200"/>
<path fill="#009200" d="M550,317h1v-2h1v45h-1v-2h-1z"/>
<rect x="554" y="300" width="1" height="47" fill="#009200"/>
<rect x="553" y="310" width="1" height="9" fill="#009200"/>
<path fill="#ff0000" d="M556,307h1v-2h1v25h-1v-2h-1z"/>
<path fill="#009200" d="M557,330h1v-1h1v15h-1v-1h-1z"/>
<rect x="558" y="344" width="1" height="2" fill="#ff0000"/>
<path fill="#ff0000" d="M533,351h1v-1h1v6h-1v-1h-1z"/>
<rect x="534" y="356" width="1" height="6" fill="#ff0000"/>
<rect x="535" y="351" width="1" height="30" fill="#009200"/>
<path fill="#ff0000" d="M537,366h1v-2h1v17h-1v-2h-1z"/>
<rect x="538" y="360" width="1" height="5" fill="#ff0000"/>
<path fill="#009200" d="M537,383h1v-2h1v20h-1v-2h-1z"/>
<rect x="537" y="401" width="2" height="4" fill="#ff0000"/>
<rect x="541" y="372" width="1" height="16" fill="#009200"/>
<rect x="540" y="375" width="1" height="3" fill="#009200"/>
<path fill="#009200" d="M543,372h1v-1h1v14h-1v-1h-1z"/>
<rect x="544" y="361" width="1" height="11" fill="#009200"/>
<rect x="544" y="385" width="1" height="5" fill="#ff0000"/>
<rect x="547" y="361" width="1" height="16" fill="#009200"/>
<rect x="548" y="357" width="1" height="13" fill="#009200"/>
<rect x="546" y="370" width="1" height="2" fill="#009200"/>
<path fill="#009200" d="M550,351h1v-1h1v10h-1v-1h-1z"/>
<rect x="564" y="279" width="1" height="26" fill="#009200"/>
<rect x="563" y="284" width="1" height="16" fill="#009200"/>
<rect x="561" y="290" width="1" height="40" fill="#009200"/>
<rect x="560" y="294" width="1" height="33" fill="#009200"/>
</g>
<polyline points="-1,490 0,490 16,490 25,489 32,488 36,486 42,482 48,479 54,476 60,474 67,472 74,468 81,465 87,463 92,461 100,462 106,463 111,463 117,462 122,461 129,460 134,459 140,457 146,455 151,454 155,452 162,451 167,450 171,449 176,449 181,449 186,450 190,452 195,452 200,453 205,454 216,455 225,455 229,452 234,450 239,446 244,441 249,436 254,431 259,427 265,425 270,423 274,419 279,417 284,414 288,410 293,405 297,400 300,396 304,390 309,384 314,378 321,371 325,367 331,362 335,358 340,353 344,351 348,352 352,351 359,351 365,351 370,351 377,354 383,356 392,357 401,357 412,357 420,357 427,356 433,355 439,355 444,357 449,359 454,361 457,364 460,365 466,367 471,367 475,363 479,360 484,358 488,354 493,347 498,341 502,335 507,330 512,325 516,322 521,320 526,317 531,315 536,316 540,317 545,318 550,317 554,316 558,315 561,314 565,314" fill="none" stroke="#ff0000" stroke-width="2" stroke-linejoin="round"/>
<polyline points="-1,476 0,476 5,478 10,481 16,482 22,484 28,486 32,486 37,484 42,482 48,478 52,476 58,473 63,471 67,468 71,464 74,459 77,455 81,451 86,446 90,442 95,439 100,438 105,438 109,442 114,443 118,446 124,447 129,446 134,446 138,447 143,448 147,452 151,455 155,456 159,459 163,460 170,460 173,461 178,460 181,459 184,458 189,458 194,459 200,460 213,460 221,457 225,455 229,447 232,441 236,434 240,427 243,421 248,414 252,407 255,401 261,395 267,388 271,381 274,377 278,373 282,368 286,363 289,360 291,355 295,348 300,342 306,337 311,333 317,328 321,327 325,327 330,325 335,322 338,319 342,319 344,322 347,326 349,331 352,334 357,339 362,345 366,351 368,356 370,359 372,362 376,369 380,375 384,380 389,386 395,388 400,390 405,392 409,395 414,395 417,392 420,385 424,379 428,373 431,368 433,365 438,359 442,353 447,349 452,346 457,345 460,345 461,345 466,345 470,345 474,339 477,331 481,324 485,318 490,312 494,307 499,303 504,300 509,297 515,294 520,292 524,291 528,289 532,286 536,286 540,289 543,292 545,296 547,302 550,306 551,307 554,309 556,312 559,315 562,317 565,318" fill="none" stroke="#000000" stroke-width="2" stroke-linejoin="round"/>
<path id="vol" fill="#009200" d="M0,645L0,623L1,623L1,628L2,628L2,632L3,632L3,632L4,632L4,639L5,639L5,639L6,639L6,640L7,640L7,640L8,640L8,635L9,635L9,635L10,635L10,635L11,635L11,635L12,635L12,638L13,638L13,628L14,628L14,628L15,628L15,635L16,635L16,635L17,635L17,638L18,638L18,638L19,638L19,638L20,638L20,640L21,640L21,640L22,640L22,639L23,639L23,639L24,639L24,639L25,639L25,637L26,637L26,616L27,616L27,616L28,616L28,627L29,627L29,627L30,627L30,631L31,631L31,572L32,572L32,572L33,572L33,576L34,576L34,576L35,576L35,603L36,603L36,603L37,603L37,610L38,610L38,593L39,593L39,593L40,593L40,617L41,617L41,627L42,627L42,617L43,617L43,580L44,580L44,580L45,580L45,617L46,617L46,622L47,622L47,622L48,622L48,615L49,615L49,615L50,615L50,617L51,617L51,629L52,629L52,608L53,608L53,608L54,608L54,625L55,625L55,628L56,628L56,624L57,624L57,624L58,624L58,630L59,630L59,625L60,625L60,625L61,625L61,629L62,629L62,620L63,620L63,620L64,620L64,635L65,635L65,637L66,637L66,581L67,581L67,581L68,581L68,615L69,615L69,615L70,615L70,634L71,634L71,600L72,600L72,600L73,600L73,627L74,627L74,628L75,628L75,626L76,626L76,619L77,619L77,619L78,619L78,614L79,614L79,614L80,614L80,629L81,629L81,629L82,629L82,629L83,629L83,629L84,629L84,633L85,633L85,629L86,629L86,606L87,606L87,606L88,606L88,629L89,629L89,623L90,623L90,623L91,623L91,623L92,623L92,623L93,623L93,623L94,623L94,602L95,602L95,602L96,602L96,625L97,625L97,633L98,633L98,635L99,635L99,633L100,633L100,633L101,633L101,627L102,627L102,627L103,627L103,627L104,627L104,627L105,627L105,618L106,618L106,618L107,618L107,630L108,630L108,635L109,635L109,633L110,633L110,633L111,633L111,632L112,632L112,632L113,632L113,635L114,635L114,631L115,631L115,631L116,631L116,631L117,631L117,637L118,637L118,622L119,622L119,619L120,619L120,619L121,619L121,615L122,615L122,615L123,615L123,631L124,631L124,620L125,620L125,595L126,595L126,595L127,595L127,630L128,630L128,626L129,626L129,626L130,626L130,635L131,635L131,635L132,635L132,635L133,635L133,637L134,637L134,630L135,630L135,630L136,630L136,630L137,630L137,630L138,630L138,627L139,627L139,612L140,612L140,612L141,612L141,635L142,635L142,633L143,633L143,633L144,633L144,629L145,629L145,629L146,629L146,634L147,634L147,639L148,639L148,638L149,638L149,638L150,638L150,641L151,641L151,624L152,624L152,624L153,624L153,634L154,634L154,637L155,637L155,637L156,637L156,638L157,638L157,638L158,638L158,638L159,638L159,636L160,636L160,636L161,636L161,625L162,625L162,625L163,625L163,633L164,633L164,633L165,633L165,633L166,633L166,639L167,639L167,638L168,638L168,638L169,638L169,636L170,636L170,636L171,636L171,620L172,620L172,620L173,620L173,629L174,629L174,635L175,635L175,635L176,635L176,637L177,637L177,637L178,637L178,637L179,637L179,633L180,633L180,633L181,633L181,639L182,639L182,639L183,639L183,639L184,639L184,638L185,638L185,638L186,638L186,639L187,639L187,639L188,639L188,639L189,639L189,641L190,641L190,641L191,641L191,639L192,639L192,639L193,639L193,639L194,639L194,637L195,637L195,637L196,637L196,637L197,637L197,639L198,639L198,639L199,639L199,637L200,637L200,637L201,637L201,623L202,623L202,617L203,617L203,617L204,617L204,628L205,628L205,628L206,628L206,637L207,637L207,639L208,639L208,634L209,634L209,634L210,634L210,637L211,637L211,637L212,637L212,637L213,637L213,639L214,639L214,639L215,639L215,637L216,637L216,637L217,637L217,632L218,632L218,632L219,632L219,638L220,638L220,637L221,637L221,637L222,637L222,592L223,592L223,592L224,592L224,599L225,599L225,595L226,595L226,595L227,595L227,614L228,614L228,611L229,611L229,611L230,611L230,620L231,620L231,620L232,620L232,614L233,614L233,614L234,614L234,630L235,630L235,628L236,628L236,628L237,628L237,606L238,606L238,606L239,606L239,632L240,632L240,630L241,630L241,630L242,630L242,625L243,625L243,625L244,625L244,609L245,609L245,609L246,609L246,619L247,619L247,629L248,629L248,606L249,606L249,606L250,606L250,627L251,627L251,627L252,627L252,634L253,634L253,635L254,635L254,623L255,623L255,623L256,623L256,628L257,628L257,613L258,613L258,613L259,613L259,615L260,615L260,625L261,625L261,625L262,625L262,630L263,630L263,633L264,633L264,620L265,620L265,620L266,620L266,635L267,635L267,625L268,625L268,625L269,625L269,625L270,625L270,632L271,632L271,625L272,625L272,625L273,625L273,631L274,631L274,618L275,618L275,618L276,618L276,631L277,631L277,629L278,629L278,629L279,629L279,634L280,634L280,634L281,634L281,634L282,634L282,634L283,634L283,633L284,633L284,633L285,633L285,611L286,611L286,611L287,611L287,618L288,618L288,618L289,618L289,623L290,623L290,605L291,605L291,605L292,605L292,625L293,625L293,615L294,615L294,615L295,615L295,584L296,584L296,584L297,584L297,633L298,633L298,616L299,616L299,616L300,616L300,620L301,620L301,620L302,620L302,621L303,621L303,630L304,630L304,630L305,630L305,613L306,613L306,613L307,613L307,624L308,624L308,624L309,624L309,624L310,624L310,626L311,626L311,626L312,626L312,627L313,627L313,621L314,621L314,621L315,621L315,626L316,626L316,626L317,626L317,613L318,613L318,613L319,613L319,632L320,632L320,626L321,626L321,626L322,626L322,626L323,626L323,626L324,626L324,626L325,626L325,631L326,631L326,631L327,631L327,631L328,631L328,631L329,631L329,634L330,634L330,630L331,630L331,630L332,630L332,638L333,638L333,638L334,638L334,627L335,627L335,627L336,627L336,632L337,632L337,630L338,630L338,630L339,630L339,634L340,634L340,630L341,630L341,623L342,623L342,623L343,623L343,587L344,587L344,587L345,587L345,623L346,623L346,600L347,600L347,600L348,600L348,614L349,614L349,614L350,614L350,630L351,630L351,617L352,617L352,617L353,617L353,628L354,628L354,628L355,628L355,629L356,629L356,629L357,629L357,629L358,629L358,600L359,600L359,600L360,600L360,629L361,629L361,610L362,610L362,610L363,610L363,627L364,627L364,627L365,627L365,639L366,639L366,636L367,636L367,636L368,636L368,616L369,616L369,616L370,616L370,609L371,609L371,609L372,609L372,627L373,627L373,627L374,627L374,627L375,627L375,631L376,631L376,631L377,631L377,631L378,631L378,624L379,624L379,624L380,624L380,636L381,636L381,635L382,635L382,635L383,635L383,621L384,621L384,621L385,621L385,630L386,630L386,633L387,633L387,633L388,633L388,610L389,610L389,610L390,610L390,619L391,619L391,619L392,619L392,633L393,633L393,636L394,636L394,632L395,632L395,632L396,632L396,632L397,632L397,631L398,631L398,631L399,631L399,637L400,637L400,621L401,621L401,621L402,621L402,631L403,631L403,630L404,630L404,630L405,630L405,636L406,636L406,636L407,636L407,636L408,636L408,638L409,638L409,637L410,637L410,623L411,623L411,623L412,623L412,627L413,627L413,638L414,638L414,638L415,638L415,638L416,638L416,631L417,631L417,631L418,631L418,637L419,637L419,618L420,618L420,618L421,618L421,636L422,636L422,639L423,639L423,634L424,634L424,634L425,634L425,635L426,635L426,627L427,627L427,627L428,627L428,630L429,630L429,628L430,628L430,628L431,628L431,631L432,631L432,635L433,635L433,638L434,638L434,622L435,622L435,622L436,622L436,633L437,633L437,630L438,630L438,630L439,630L439,634L440,634L440,627L441,627L441,627L442,627L442,635L443,635L443,630L444,630L444,628L445,628L445,628L446,628L446,630L447,630L447,630L448,630L448,635L449,635L449,635L450,635L450,633L451,633L451,625L452,625L452,625L453,625L453,624L454,624L454,619L455,619L455,619L456,619L456,626L457,626L457,614L458,614L458,614L459,614L459,621L460,621L460,621L461,621L461,614L462,614L462,614L463,614L463,627L464,627L464,622L465,622L465,622L466,622L466,625L467,625L467,602L468,602L468,602L469,602L469,620L470,620L470,571L471,571L471,571L472,571L472,575L473,575L473,585L474,585L474,585L475,585L475,598L476,598L476,613L477,613L477,611L478,611L478,611L479,611L479,607L480,607L480,607L481,607L481,607L482,607L482,625L483,625L483,625L484,625L484,625L485,625L485,628L486,628L486,628L487,628L487,625L488,625L488,625L489,625L489,634L490,634L490,629L491,629L491,629L492,629L492,624L493,624L493,624L494,624L494,627L495,627L495,637L496,637L496,639L497,639L497,633L498,633L498,633L499,633L499,636L500,636L500,635L501,635L501,635L502,635L502,635L503,635L503,622L504,622L504,622L505,622L505,639L506,639L506,634L507,634L507,634L508,634L508,635L509,635L509,640L510,640L510,636L511,636L511,636L512,636L512,640L513,640L513,637L514,637L514,637L515,637L515,639L516,639L516,635L517,635L517,635L518,635L518,640L519,640L519,640L520,640L520,638L521,638L521,638L522,638L522,638L523,638L523,632L524,632L524,632L525,632L525,638L526,638L526,638L527,638L527,635L528,635L528,635L529,635L529,629L530,629L530,622L531,622L531,622L532,622L532,625L533,625L533,625L534,625L534,636L535,636L535,636L536,636L536,627L537,627L537,627L538,627L538,631L539,631L539,640L540,640L540,640L541,640L541,642L542,642L542,636L543,636L543,636L544,636L544,636L545,636L545,640L546,640L546,636L547,636L547,636L548,636L548,638L549,638L549,624L550,624L550,621L551,621L551,621L552,621L552,617L553,617L553,617L554,617L554,622L555,622L555,635L556,635L556,631L557,631L557,631L558,631L558,634L559,634L559,637L560,637L560,622L561,622L561,622L562,622L562,632L563,632L563,630L564,630L564,630L565,630L565,645Z"/>
<polyline points="-1,634 0,634 4,634 7,635 16,635 31,635 33,628 38,623 42,620 44,617 48,615 52,612 54,610 58,611 60,611 62,615 64,619 66,620 68,619 72,619 74,621 77,622 81,623 87,623 92,622 95,620 97,623 101,624 106,624 110,626 115,626 117,628 123,628 125,629 129,627 132,628 136,628 140,628 144,627 147,627 149,629 153,630 156,632 160,633 165,633 169,635 175,635 180,635 184,635 188,635 191,637 196,637 199,637 203,638 206,636 211,636 216,636 221,635 224,633 227,628 228,627 231,625 236,624 241,623 244,621 248,619 251,617 253,621 256,623 260,623 264,624 268,625 271,624 274,626 276,625 279,627 284,627 287,628 291,627 294,626 297,624 301,623 303,621 307,622 310,621 312,620 315,621 319,621 322,622 325,623 327,625 330,627 334,627 337,629 343,629 345,627 351,627 355,626 359,625 362,623 364,622 367,623 371,623 374,624 377,626 381,627 385,627 389,629 391,628 396,628 399,630 403,630 407,630 409,631 412,631 417,631 421,632 425,632 428,631 432,632 436,632 439,631 443,632 447,631 449,632 453,631 457,630 461,629 465,627 469,625 472,621 475,617 477,614 480,613 482,611 485,611 488,612 492,613 495,613 497,616 499,619 501,623 504,627 507,630 511,632 516,634 521,635 527,636 531,635 533,635 540,635 545,635 549,635 552,633 555,632 557,631 560,632 564,632" fill="none" stroke="#ff0000" stroke-width="2" stroke-linejoin="round"/>
<g id="axes" stroke="#000" stroke-width="1">
<rect x="0" y="138" width="631" height="1" fill="#f0f0f0" stroke="none"/>
<rect x="0" y="140" width="631" height="1" fill="#a0a0a0" stroke="none"/>
<rect x="0" y="141" width="631" height="1" fill="#696969" stroke="none"/>
<rect x="0" y="561" width="631" height="1" fill="#f0f0f0" stroke="none"/>
<rect x="0" y="563" width="631" height="1" fill="#a0a0a0" stroke="none"/>
<rect x="0" y="564" width="631" height="1" fill="#696969" stroke="none"/>
<rect x="582" y="0" width="1" height="138" fill="#000" stroke="none"/>
<rect x="582" y="142" width="1" height="419" fill="#000" stroke="none"/>
<rect x="582" y="565" width="1" height="86" fill="#000" stroke="none"/>
<rect x="583" y="11" width="8" height="1" fill="#000" stroke="none"/>
<rect x="583" y="23" width="3" height="1" fill="#000" stroke="none"/>
<rect x="583" y="35" width="8" height="1" fill="#000" stroke="none"/>
<rect x="583" y="46" width="3" height="1" fill="#000" stroke="none"/>
<rect x="583" y="58" width="8" height="1" fill="#000" stroke="none"/>
<rect x="583" y="70" width="3" height="1" fill="#000" stroke="none"/>
<rect x="583" y="82" width="8" height="1" fill="#000" stroke="none"/>
<rect x="583" y="93" width="3" height="1" fill="#000" stroke="none"/>
<rect x="583" y="105" width="8" height="1" fill="#000" stroke="none"/>
<rect x="583" y="117" width="3" height="1" fill="#000" stroke="none"/>
<rect x="583" y="129" width="8" height="1" fill="#000" stroke="none"/>
<rect x="583" y="153" width="3" height="1" fill="#000" stroke="none"/>
<rect x="583" y="166" width="8" height="1" fill="#000" stroke="none"/>
<rect x="583" y="178" width="3" height="1" fill="#000" stroke="none"/>
<rect x="583" y="191" width="3" height="1" fill="#000" stroke="none"/>
<rect x="583" y="204" width="3" height="1" fill="#000" stroke="none"/>
<rect x="583" y="216" width="3" height="1" fill="#000" stroke="none"/>
<rect x="583" y="229" width="8" height="1" fill="#000" stroke="none"/>
<rect x="583" y="242" width="3" height="1" fill="#000" stroke="none"/>
<rect x="583" y="254" width="3" height="1" fill="#000" stroke="none"/>
<rect x="583" y="267" width="3" height="1" fill="#000" stroke="none"/>
<rect x="583" y="280" width="3" height="1" fill="#000" stroke="none"/>
<rect x="583" y="293" width="8" height="1" fill="#000" stroke="none"/>
<rect x="583" y="305" width="3" height="1" fill="#000" stroke="none"/>
<rect x="583" y="318" width="3" height="1" fill="#000" stroke="none"/>
<rect x="583" y="331" width="3" height="1" fill="#000" stroke="none"/>
<rect x="583" y="343" width="3" height="1" fill="#000" stroke="none"/>
<rect x="583" y="356" width="8" height="1" fill="#000" stroke="none"/>
<rect x="583" y="369" width="3" height="1" fill="#000" stroke="none"/>
<rect x="583" y="381" width="3" height="1" fill="#000" stroke="none"/>
<rect x="583" y="394" width="3" height="1" fill="#000" stroke="none"/>
<rect x="583" y="407" width="3" height="1" fill="#000" stroke="none"/>
<rect x="583" y="419" width="8" height="1" fill="#000" stroke="none"/>
<rect x="583" y="432" width="3" height="1" fill="#000" stroke="none"/>
<rect x="583" y="445" width="3" height="1" fill="#000" stroke="none"/>
<rect x="583" y="457" width="3" height="1" fill="#000" stroke="none"/>
<rect x="583" y="470" width="3" height="1" fill="#000" stroke="none"/>
<rect x="583" y="483" width="8" height="1" fill="#000" stroke="none"/>
<rect x="583" y="495" width="3" height="1" fill="#000" stroke="none"/>
<rect x="583" y="508" width="3" height="1" fill="#000" stroke="none"/>
<rect x="583" y="521" width="3" height="1" fill="#000" stroke="none"/>
<rect x="583" y="533" width="3" height="1" fill="#000" stroke="none"/>
<rect x="583" y="546" width="8" height="1" fill="#000" stroke="none"/>
<rect x="583" y="559" width="3" height="1" fill="#000" stroke="none"/>
<rect x="583" y="636" width="3" height="1" fill="#000" stroke="none"/>
<rect x="583" y="634" width="3" height="1" fill="#000" stroke="none"/>
<rect x="583" y="631" width="8" height="1" fill="#000" stroke="none"/>
<rect x="583" y="628" width="3" height="1" fill="#000" stroke="none"/>
<rect x="583" y="626" width="3" height="1" fill="#000" stroke="none"/>
<rect x="583" y="623" width="3" height="1" fill="#000" stroke="none"/>
<rect x="583" y="620" width="3" height="1" fill="#000" stroke="none"/>
<rect x="583" y="617" width="8" height="1" fill="#000" stroke="none"/>
<rect x="583" y="615" width="3" height="1" fill="#000" stroke="none"/>
<rect x="583" y="612" width="3" height="1" fill="#000" stroke="none"/>
<rect x="583" y="609" width="3" height="1" fill="#000" stroke="none"/>
<rect x="583" y="607" width="3" height="1" fill="#000" stroke="none"/>
<rect x="583" y="604" width="8" height="1" fill="#000" stroke="none"/>
<rect x="583" y="601" width="3" height="1" fill="#000" stroke="none"/>
<rect x="583" y="598" width="3" height="1" fill="#000" stroke="none"/>
<rect x="583" y="596" width="3" height="1" fill="#000" stroke="none"/>
<rect x="583" y="593" width="3" height="1" fill="#000" stroke="none"/>
<rect x="583" y="590" width="8" height="1" fill="#000" stroke="none"/>
<rect x="583" y="588" width="3" height="1" fill="#000" stroke="none"/>
<rect x="583" y="585" width="3" height="1" fill="#000" stroke="none"/>
<rect x="583" y="582" width="3" height="1" fill="#000" stroke="none"/>
<rect x="583" y="580" width="3" height="1" fill="#000" stroke="none"/>
<rect x="583" y="577" width="8" height="1" fill="#000" stroke="none"/>
<rect x="583" y="574" width="3" height="1" fill="#000" stroke="none"/>
<rect x="583" y="572" width="3" height="1" fill="#000" stroke="none"/>
<rect x="583" y="569" width="3" height="1" fill="#000" stroke="none"/>
<rect x="583" y="566" width="3" height="1" fill="#000" stroke="none"/>
<rect x="0" y="650" width="582" height="1" fill="#000" stroke="none"/>
<rect x="10" y="650" width="1" height="15" fill="#000" stroke="none"/>
<rect x="42" y="650" width="1" height="15" fill="#000" stroke="none"/>
<rect x="70" y="650" width="1" height="15" fill="#000" stroke="none"/>
<rect x="103" y="650" width="1" height="15" fill="#000" stroke="none"/>
<rect x="135" y="650" width="1" height="15" fill="#000" stroke="none"/>
<rect x="163" y="650" width="1" height="15" fill="#000" stroke="none"/>
<rect x="195" y="650" width="1" height="15" fill="#000" stroke="none"/>
<rect x="226" y="650" width="1" height="15" fill="#000" stroke="none"/>
<rect x="256" y="650" width="1" height="15" fill="#000" stroke="none"/>
<rect x="309" y="650" width="1" height="15" fill="#000" stroke="none"/>
<rect x="339" y="650" width="1" height="15" fill="#000" stroke="none"/>
<rect x="368" y="650" width="1" height="15" fill="#000" stroke="none"/>
<rect x="397" y="650" width="1" height="15" fill="#000" stroke="none"/>
<rect x="427" y="650" width="1" height="15" fill="#000" stroke="none"/>
<rect x="460" y="650" width="1" height="15" fill="#000" stroke="none"/>
<rect x="490" y="650" width="1" height="15" fill="#000" stroke="none"/>
<rect x="518" y="650" width="1" height="15" fill="#000" stroke="none"/>
<rect x="551" y="650" width="1" height="15" fill="#000" stroke="none"/>
<rect x="580" y="650" width="1" height="15" fill="#000" stroke="none"/>
<rect x="281" y="650" width="1" height="3" fill="#000" stroke="none"/>
</g>
<g id="xlabels" fill="#000">
<text x="3.8" y="664" text-anchor="end">Apr</text>
<text x="11.6" y="664">May</text>
<text x="43.6" y="664">Jun</text>
<text x="71.6" y="664">Jul</text>
<text x="104.6" y="664">Aug</text>
<text x="136.6" y="664">Sep</text>
<text x="164.6" y="664">Oct</text>
<text x="196.6" y="664">Nov</text>
<text x="227.6" y="664">Dec</text>
<text x="257.6" y="664">2025</text>
<text x="310.6" y="664">Mar</text>
<text x="340.6" y="664">Apr</text>
<text x="369.6" y="664">May</text>
<text x="398.6" y="664">Jun</text>
<text x="428.6" y="664">Jul</text>
<text x="461.6" y="664">Aug</text>
<text x="491.6" y="664">Sep</text>
<text x="519.6" y="664">Oct</text>
<text x="552.6" y="664">Nov</text>
</g>
<g id="ylabels" fill="#000" text-anchor="end" style="letter-spacing:0.45px">
<text x="629.3" y="17">2000</text>
<text x="629.3" y="41">1000</text>
<text x="629.3" y="64">0</text>
<text x="629.3" y="88">-1000</text>
<text x="629.3" y="111">-2000</text>
<text x="629.3" y="135">-3000</text>
<text x="629.3" y="172">65000</text>
<text x="629.3" y="235">60000</text>
<text x="629.3" y="299">55000</text>
<text x="629.3" y="362">50000</text>
<text x="629.3" y="425">45000</text>
<text x="629.3" y="489">40000</text>
<text x="629.3" y="552">35000</text>
<text x="629.3" y="583">25000</text>
<text x="629.3" y="596">20000</text>
<text x="629.3" y="610">15000</text>
<text x="629.3" y="623">10000</text>
<text x="629.3" y="637">5000</text>
</g>
<rect x="587" y="279" width="44" height="18" fill="#fff"/>
<rect x="587" y="280" width="44" height="16" fill="#000"/>
<text x="588.4" y="292" fill="#00ff00" style="font-size:10.4px;letter-spacing:0.2px;stroke:none;text-rendering:geometricPrecision">55300.00</text>
<rect x="583" y="651" width="48" height="14" fill="#f8f8f8"/>
<rect x="584" y="652" width="47" height="13" fill="#f0f0f0"/>
<rect x="583" y="637" width="25" height="13" fill="#fff"/>
<rect x="583" y="637" width="25" height="1" fill="#000"/>
<rect x="607" y="637" width="1" height="13" fill="#000"/>
<rect x="584" y="637" width="1" height="13" fill="#000"/>
<rect x="583" y="639" width="1" height="1" fill="#000"/>
<rect x="583" y="641" width="1" height="1" fill="#000"/>
<rect x="583" y="643" width="1" height="1" fill="#000"/>
<rect x="583" y="645" width="1" height="1" fill="#000"/>
<rect x="583" y="647" width="1" height="1" fill="#000"/>
<rect x="583" y="649" width="1" height="1" fill="#000"/>
<text x="585.4" y="647" fill="#000" style="font-size:10px;stroke-width:.15px;text-rendering:geometricPrecision;letter-spacing:-0.15px">x100</text>
</svg>
</body></html>
